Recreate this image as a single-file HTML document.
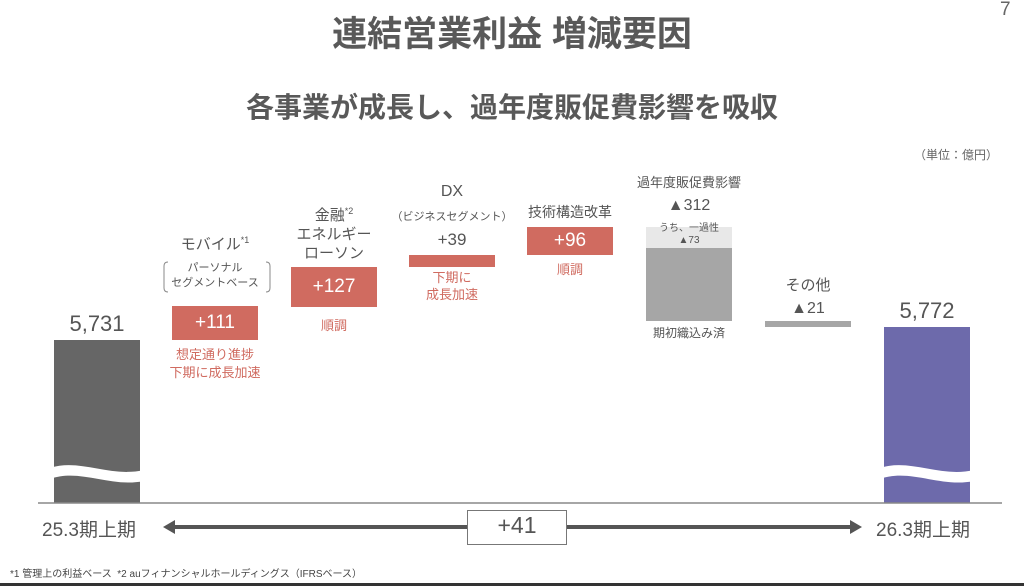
<!DOCTYPE html>
<html><head><meta charset="utf-8"><style>
*{margin:0;padding:0;box-sizing:border-box}
body{width:1024px;height:586px;background:#fff;position:relative;overflow:hidden;font-family:"Liberation Sans","Noto Sans CJK JP",sans-serif;color:#555}
.t{position:absolute;white-space:nowrap;text-align:center}
.b{position:absolute}
.red{color:#d06b60}
.box{position:absolute;background:#d06b60;color:#fff;font-size:19px;display:flex;align-items:center;justify-content:center}
</style></head><body>
<div class="t" style="left:0;width:1024px;top:6px;font-size:35px;font-weight:bold;color:#595959">連結営業利益 増減要因</div>
<div class="t" style="left:1000px;top:-1px;font-size:19px;color:#666">7</div>
<div class="t" style="left:0;width:1024px;top:86px;font-size:28px;font-weight:bold;color:#595959">各事業が成長し、過年度販促費影響を吸収</div>
<div class="t" style="left:914px;top:146px;font-size:12px;color:#666">（単位：億円）</div>

<div class="b" style="left:54px;top:340px;width:86px;height:163px;background:#666"></div>
<div class="t" style="left:40px;width:114px;top:311px;font-size:22px">5,731</div>
<div class="b" style="left:884px;top:327px;width:86px;height:176px;background:#6d6aab"></div>
<div class="t" style="left:870px;width:114px;top:298px;font-size:22px">5,772</div>
<svg class="b" style="left:0;top:0" width="1024" height="586">
<path d="M50 468 C80 458,110 478,144 470 L144 481 C110 488,80 468,50 479Z" fill="#fff"/>
<path d="M880 468 C910 458,940 478,974 470 L974 481 C940 488,910 468,880 479Z" fill="#fff"/>
<line x1="38" y1="503" x2="1002" y2="503" stroke="#888" stroke-width="1.5"/>
<line x1="170" y1="527" x2="855" y2="527" stroke="#555" stroke-width="4"/>
<polygon points="163,527 175,520 175,534" fill="#555"/>
<polygon points="862,527 850,520 850,534" fill="#555"/>
<path d="M168 262 q-4 0 -4 4 v22 q0 4 4 4" fill="none" stroke="#888"/>
<path d="M266 262 q4 0 4 4 v22 q0 4 -4 4" fill="none" stroke="#888"/>
</svg>
<div class="b" style="left:467px;top:510px;width:100px;height:35px;background:#fff;border:1.5px solid #777"></div>
<div class="t" style="left:467px;width:100px;top:512px;font-size:23px">+41</div>
<div class="t" style="left:42px;top:515px;font-size:19px">25.3期上期</div>
<div class="t" style="left:876px;top:515px;font-size:19px">26.3期上期</div>

<div class="t" style="left:150px;width:130px;top:233px;font-size:15px">モバイル<sup style="font-size:9px">*1</sup></div>
<div class="t" style="left:150px;width:130px;top:261px;font-size:11px;line-height:15px">パーソナル<br>セグメントベース</div>
<div class="box" style="left:172px;top:306px;width:86px;height:34px">+111</div>
<div class="t red" style="left:150px;width:130px;top:346px;font-size:13px;line-height:18px">想定通り進捗<br>下期に成長加速</div>

<div class="t" style="left:270px;width:128px;top:202px;font-size:15px;line-height:19px">金融<sup style="font-size:9px">*2</sup><br>エネルギー<br>ローソン</div>
<div class="box" style="left:291px;top:267px;width:86px;height:40px">+127</div>
<div class="t red" style="left:291px;width:86px;top:315px;font-size:13px">順調</div>

<div class="t" style="left:390px;width:124px;top:183px;font-size:16px">DX</div>
<div class="t" style="left:390px;width:124px;top:208px;font-size:11px">（ビジネスセグメント）</div>
<div class="t" style="left:390px;width:124px;top:230px;font-size:17px">+39</div>
<div class="b" style="left:409px;top:255px;width:86px;height:12px;background:#d06b60"></div>
<div class="t red" style="left:409px;width:86px;top:269px;font-size:13px;line-height:17px">下期に<br>成長加速</div>

<div class="t" style="left:510px;width:120px;top:202px;font-size:14px">技術構造改革</div>
<div class="box" style="left:527px;top:227px;width:86px;height:28px">+96</div>
<div class="t red" style="left:527px;width:86px;top:259px;font-size:13px">順調</div>

<div class="t" style="left:620px;width:138px;top:172px;font-size:13px">過年度販促費影響</div>
<div class="t" style="left:620px;width:138px;top:197px;font-size:16px">▲312</div>
<div class="b" style="left:646px;top:227px;width:86px;height:21px;background:#e8e8e8"></div>
<div class="b" style="left:646px;top:248px;width:86px;height:73px;background:#a6a6a6"></div>
<div class="t" style="left:646px;width:86px;top:223px;font-size:10px;line-height:12px">うち、一過性<br>▲73</div>
<div class="t" style="left:620px;width:138px;top:324px;font-size:12px">期初織込み済</div>

<div class="t" style="left:765px;width:86px;top:274px;font-size:15px">その他</div>
<div class="t" style="left:765px;width:86px;top:300px;font-size:16px">▲21</div>
<div class="b" style="left:765px;top:321px;width:86px;height:6px;background:#a6a6a6"></div>

<div class="t" style="left:10px;top:565px;font-size:10px;color:#444;text-align:left">*1 管理上の利益ベース &nbsp;*2 auフィナンシャルホールディングス（IFRSベース）</div>
<div class="b" style="left:0;top:583px;width:1024px;height:3px;background:#333"></div>
</body></html>
